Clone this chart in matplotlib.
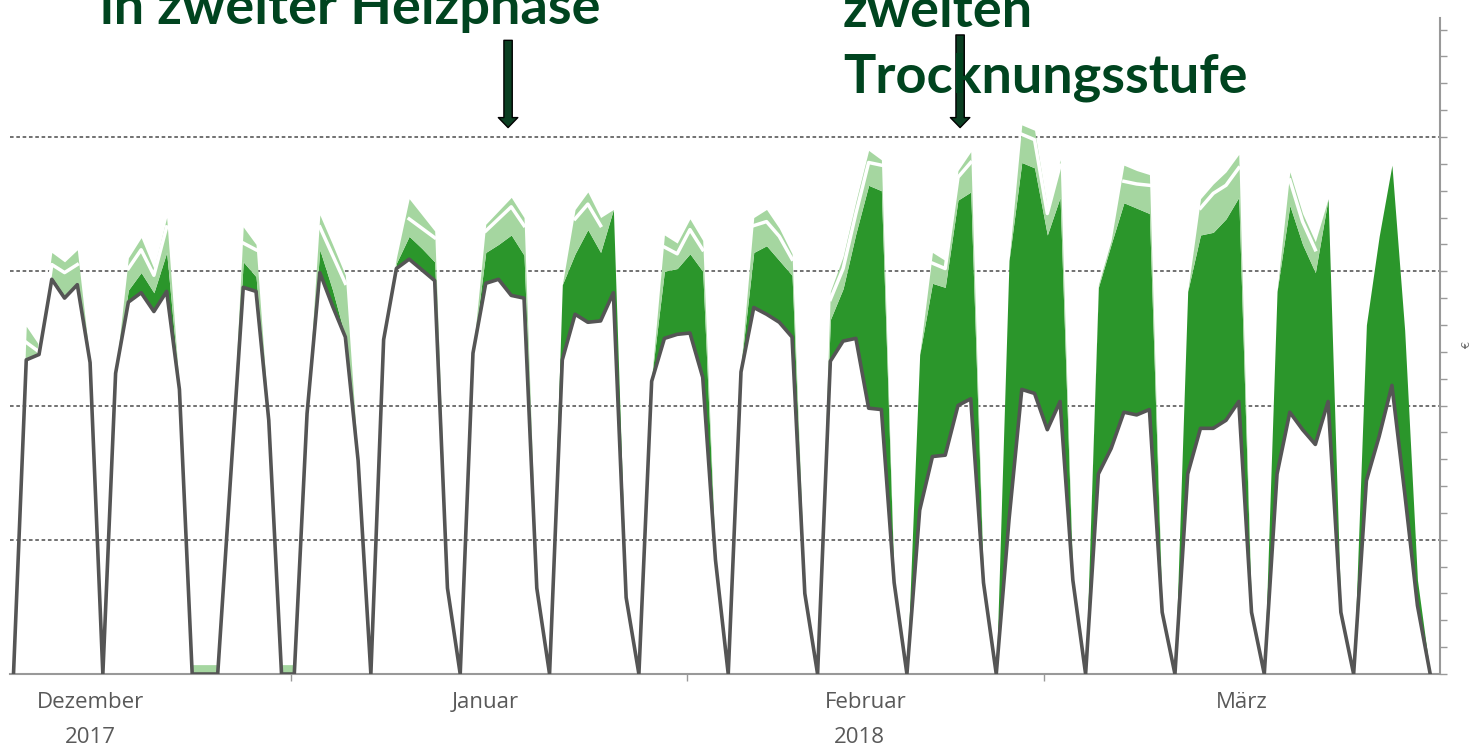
import matplotlib
matplotlib.use('Agg')
import matplotlib.pyplot as plt
import matplotlib.dates as mdates
import numpy as np
import pandas as pd

nan = np.nan

# one value per day, 10.12.2017 - 31.03.2018 (16 weeks, one row per week)
days = pd.date_range('2017-12-10 06:00', '2018-03-31 06:00', freq='D')

base = [
    0, 2.34, 2.38, 2.94, 2.80, 2.90, 2.32,
    0, 2.24, 2.77, 2.84, 2.70, 2.85, 2.12,
    0, 0, 0, 1.45, 2.88, 2.85, 1.89,
    0, 0, 1.94, 2.99, 2.74, 2.51, 1.59,
    0, 2.49, 3.02, 3.09, 3.01, 2.93, 0.64,
    0, 2.39, 2.91, 2.94, 2.82, 2.80, 0.64,
    0, 2.34, 2.68, 2.62, 2.63, 2.84, 0.57,
    0, 2.18, 2.50, 2.53, 2.54, 2.21, 0.85,
    0, 2.25, 2.73, 2.68, 2.62, 2.51, 0.60,
    0, 2.33, 2.48, 2.50, 1.98, 1.97, 0.68,
    0, 1.22, 1.62, 1.63, 2.00, 2.05, 0.68,
    0, 1.15, 2.12, 2.09, 1.82, 2.03, 0.70,
    0, 1.49, 1.68, 1.95, 1.93, 1.97, 0.46,
    0, 1.49, 1.83, 1.83, 1.89, 2.03, 0.46,
    0, 1.49, 1.95, 1.82, 1.71, 2.03, 0.46,
    0, 1.44, 1.77, 2.15, 1.35, 0.51, 0,
]

mid = [
    0, 2.34, 2.38, 2.96, 2.82, 2.92, 2.32,
    0, 2.24, 2.86, 2.99, 2.84, 3.14, 2.12,
    0, 0, 0, 1.45, 3.07, 2.96, 1.89,
    0, 0, 1.94, 3.16, 2.86, 2.51, 1.59,
    0, 2.49, 3.06, 3.26, 3.17, 3.07, 0.64,
    0, 2.39, 3.14, 3.20, 3.27, 3.12, 0.64,
    0, 2.90, 3.13, 3.31, 3.14, 3.46, 0.57,
    0, 2.21, 3.00, 3.02, 3.13, 3.00, 0.85,
    0, 2.30, 3.14, 3.19, 3.08, 2.97, 0.60,
    0, 2.64, 2.87, 3.28, 3.64, 3.60, 0.68,
    0, 2.38, 2.91, 2.88, 3.53, 3.59, 0.68,
    0, 3.08, 3.81, 3.77, 3.27, 3.55, 0.70,
    0, 2.88, 3.20, 3.51, 3.47, 3.43, 0.46,
    0, 2.85, 3.27, 3.29, 3.39, 3.55, 0.46,
    0, 2.85, 3.49, 3.20, 2.99, 3.54, 0.46,
    0, 2.60, 3.26, 3.79, 2.56, 0.70, 0,
]

upper = [
    0, 2.59, 2.45, 3.14, 3.07, 3.16, 2.32,
    0, 2.24, 3.10, 3.25, 3.02, 3.40, 2.12,
    0.07, 0.07, 0.07, 1.45, 3.33, 3.20, 1.89,
    0.07, 0.07, 1.94, 3.42, 3.20, 2.97, 1.59,
    0, 2.49, 3.10, 3.54, 3.42, 3.30, 0.64,
    0, 2.39, 3.35, 3.45, 3.55, 3.40, 0.64,
    0, 2.90, 3.46, 3.59, 3.40, 3.46, 0.57,
    0, 2.21, 3.27, 3.21, 3.39, 3.23, 0.85,
    0, 2.30, 3.40, 3.46, 3.32, 3.13, 0.60,
    0, 2.85, 3.11, 3.52, 3.90, 3.83, 0.68,
    0, 2.38, 3.14, 3.08, 3.75, 3.89, 0.68,
    0, 3.08, 4.09, 4.05, 3.47, 3.83, 0.70,
    0, 2.90, 3.23, 3.79, 3.75, 3.72, 0.46,
    0, 2.85, 3.54, 3.65, 3.74, 3.87, 0.46,
    0, 2.85, 3.74, 3.43, 3.22, 3.54, 0.46,
    0, 2.60, 3.26, 3.79, 2.56, 0.70, 0,
]

white = [
    nan, 2.47, 2.40, 3.05, 2.99, 3.05, nan,
    nan, nan, 3.02, 3.16, 2.97, 3.33, nan,
    nan, nan, nan, nan, 3.21, 3.16, nan,
    nan, nan, nan, 3.33, 3.12, 2.91, nan,
    nan, nan, nan, 3.39, 3.32, 3.25, nan,
    nan, nan, 3.30, 3.39, 3.48, 3.34, nan,
    nan, nan, 3.39, 3.50, 3.34, nan, nan,
    nan, nan, 3.18, 3.13, 3.31, 3.16, nan,
    nan, nan, 3.34, 3.37, 3.26, 3.09, nan,
    nan, 2.79, 3.02, 3.43, 3.81, 3.79, nan,
    nan, nan, 3.06, 3.02, 3.70, 3.81, nan,
    nan, nan, 4.02, 3.98, 3.43, 3.79, nan,
    nan, nan, nan, 3.67, 3.65, 3.64, nan,
    nan, nan, 3.47, 3.58, 3.64, 3.77, nan,
    nan, nan, 3.68, 3.37, 3.16, nan, nan,
    nan, nan, nan, nan, nan, nan, nan,
]

month_starts = ['2018-01-01 00:00', '2018-02-01 00:00', '2018-03-01 00:00']
month_label_pos = ['2017-12-16 06:00', '2018-01-16 06:00', '2018-02-15 00:00', '2018-03-16 12:00']
month_names = ['Dezember', 'Januar', 'Februar', 'März']
year_labels = [('2017-12-16 06:00', '2017'), ('2018-02-14 12:00', '2018')]

DARK = '#2b962b'
LIGHT = '#a5d6a0'
LINE = '#555555'
TEXT_GREEN = '#00441f'


def dnum(s):
    return mdates.date2num(pd.Timestamp(s))


fig = plt.figure(figsize=(14.77, 7.49), dpi=100)
ax = fig.add_axes([0.0068, 0.1001, 0.968, 0.876])

x = mdates.date2num(days)
base = np.array(base)
mid = np.array(mid)
upper = np.array(upper)

for g in [1, 2, 3, 4]:
    ax.axhline(g, color='#666666', lw=1.3, ls=(0, (2, 1.5)), zorder=1)

ax.fill_between(x, base, mid, color=DARK, lw=0, zorder=2)
ax.fill_between(x, mid, upper, color=LIGHT, lw=0, zorder=2)
ax.plot(x, white, color='white', lw=2.5, zorder=3)
ax.plot(x, base, color=LINE, lw=2.6, zorder=4)

ax.set_xlim(dnum('2017-12-09 23:30'), dnum('2018-04-01 00:00'))
ax.set_ylim(0, 4.887)

for s in ['top', 'left']:
    ax.spines[s].set_visible(False)
ax.spines['bottom'].set_color('#999999')
ax.spines['bottom'].set_linewidth(1.5)
ax.spines['right'].set_color('#999999')
ax.spines['right'].set_linewidth(1.5)

ax.yaxis.tick_right()
ax.set_yticks(np.arange(0, 4.81, 0.2))
ax.set_yticklabels([])
ax.tick_params(axis='y', length=5, width=1, color='#999999')

ax.set_xticks([dnum(s) for s in month_starts])
ax.set_xticklabels([])
ax.set_xticks([dnum(s) for s in month_label_pos], minor=True)
ax.set_xticklabels(month_names, minor=True)
ax.tick_params(axis='x', which='major', length=5, width=1, color='#999999')
ax.tick_params(axis='x', which='minor', length=0, pad=13, labelsize=16,
               labelcolor='#595959')
for lab in ax.get_xticklabels(minor=True):
    lab.set_family('Open Sans')

for pos, yr in year_labels:
    ax.text(dnum(pos), -0.47, yr, ha='center', va='center',
            fontsize=16, color='#595959', family='Open Sans', clip_on=False)

ax.text(1.019, 0.5, '€', transform=ax.transAxes, rotation=90, fontsize=8,
        color='#666666', ha='center', va='center')

# Annotation texts above the plot (cut at the top edge as in the slide)
fig.text(100 / 1477, 1 - 24 / 749, 'in zweiter Heizphase', ha='left', va='baseline',
         fontsize=39, fontweight='bold', color=TEXT_GREEN, family='Lato')
fig.text(843 / 1477, 1 - 27 / 749, 'zweiten', ha='left', va='baseline',
         fontsize=39, fontweight='bold', color=TEXT_GREEN, family='Lato')
fig.text(843 / 1477, 1 - 92 / 749, 'Trocknungsstufe', ha='left', va='baseline',
         fontsize=39, fontweight='bold', color=TEXT_GREEN, family='Lato')

arrow_kw = dict(arrowstyle='simple,head_length=0.36,head_width=0.7,tail_width=0.3',
                fc='#0b3f22', ec='black', lw=1, shrinkA=0, shrinkB=0, mutation_scale=20)
for when, top in [('2018-01-18 00:00', 4.72), ('2018-02-22 10:00', 4.76)]:
    xd = dnum(when)
    ax.annotate('', xy=(xd, 4.07), xytext=(xd, top), arrowprops=arrow_kw,
                annotation_clip=False)

fig.savefig('out.png', dpi=100)
